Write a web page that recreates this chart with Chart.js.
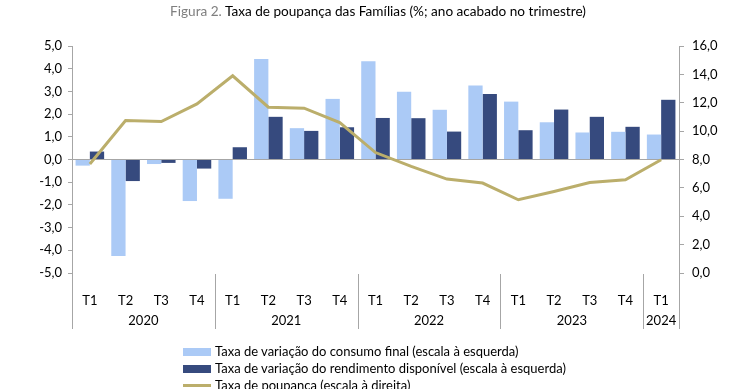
<!DOCTYPE html>
<html>
<head>
<meta charset="utf-8">
<script src="https://cdn.jsdelivr.net/npm/chart.js@4.4.1/dist/chart.umd.min.js"></script>
<style>
  html, body { margin: 0; padding: 0; background: #fff; overflow: hidden; }
  #wrap { position: relative; width: 740px; height: 389px; overflow: hidden; font-family: Lato, "Open Sans", sans-serif; }
  #c { position: absolute; left: 0; top: 0; }
  #title { position: absolute; left: 0; width: 756px; top: 3px; text-align: center; font-size: 13.6px; color: #000; white-space: nowrap; }
  #title .g { color: #7f7f7f; }
  .leg { position: absolute; left: 183px; font-size: 13px; color: #000; white-space: nowrap; height: 17px; line-height: 17px; }
  .sw { display: inline-block; width: 28px; height: 8px; vertical-align: middle; margin-right: 4px; position: relative; top: -1px; }
  .swl { display: inline-block; width: 28px; height: 3px; vertical-align: middle; margin-right: 4px; position: relative; top: -1px; }
</style>
</head>
<body>
<div id="wrap">
  <canvas id="c" width="740" height="389"></canvas>
  <div id="title"><span class="g">Figura 2.</span> Taxa de poupança das Famílias (%; ano acabado no trimestre)</div>
  <div class="leg" style="top:343px"><span class="sw" style="background:#abcaf6"></span>Taxa de variação do consumo final (escala à esquerda)</div>
  <div class="leg" style="top:360px"><span class="sw" style="background:#364a7e"></span>Taxa de variação do rendimento disponível (escala à esquerda)</div>
  <div class="leg" style="top:377px"><span class="swl" style="background:#bbae6b"></span>Taxa de poupança (escala à direita)</div>
</div>
<script>
const quarters = ['T1','T2','T3','T4','T1','T2','T3','T4','T1','T2','T3','T4','T1','T2','T3','T4','T1'];
const years = ['2020','2021','2022','2023','2024'];
const yearSizes = [4, 4, 4, 4, 1];
const consumo = [-0.27, -4.25, -0.2, -1.83, -1.73, 4.43, 1.38, 2.67, 4.33, 2.98, 2.19, 3.26, 2.55, 1.64, 1.19, 1.22, 1.1];
const rendimento = [0.35, -0.95, -0.15, -0.4, 0.54, 1.88, 1.26, 1.42, 1.83, 1.82, 1.23, 2.89, 1.29, 2.2, 1.88, 1.44, 2.63];
const poupanca = [7.68, 10.75, 10.68, 11.92, 13.9, 11.69, 11.62, 10.6, 8.49, 7.51, 6.62, 6.34, 5.16, 5.75, 6.38, 6.57, 7.98];

const axisGray = '#a6a6a6';
const fontFam = 'Lato, "Open Sans", sans-serif';
const fmt = v => v.toFixed(1).replace('.', ',');

const groupPlugin = {
  id: 'groups',
  afterDraw(chart) {
    const ctx = chart.ctx;
    const x = chart.scales.x;
    const area = chart.chartArea;
    const y0 = area.bottom + 1, y1 = area.bottom + 56;
    ctx.save();
    ctx.strokeStyle = axisGray;
    ctx.lineWidth = 1;
    [area.left, area.right].forEach(px => {
      ctx.beginPath(); ctx.moveTo(Math.round(px) + 0.5, area.bottom); ctx.lineTo(Math.round(px) + 0.5, y1); ctx.stroke();
    });
    let start = 0;
    ctx.fillStyle = '#000';
    ctx.font = '13px ' + fontFam;
    ctx.textAlign = 'center';
    ctx.textBaseline = 'middle';
    yearSizes.forEach((n, gi) => {
      const end = start + n - 1;
      const left = start === 0 ? area.left : (x.getPixelForValue(start - 1) + x.getPixelForValue(start)) / 2;
      const right = end === quarters.length - 1 ? area.right : (x.getPixelForValue(end) + x.getPixelForValue(end + 1)) / 2;
      if (start !== 0) {
        ctx.beginPath(); ctx.moveTo(Math.round(left) + 0.5, y0); ctx.lineTo(Math.round(left) + 0.5, y1); ctx.stroke();
      }
      ctx.fillText(years[gi], (left + right) / 2, area.bottom + 48);
      start += n;
    });
    ctx.restore();
  }
};

new Chart(document.getElementById('c'), {
  data: {
    labels: quarters,
    datasets: [
      { type: 'line', label: 'Taxa de poupança (escala à direita)', data: poupanca, yAxisID: 'y1',
        borderColor: '#bbae6b', borderWidth: 3, pointRadius: 0, tension: 0, order: 0 },
      { type: 'bar', label: 'Taxa de variação do consumo final (escala à esquerda)', data: consumo, yAxisID: 'y',
        backgroundColor: '#abcaf6', categoryPercentage: 0.8, barPercentage: 1.0, order: 1 },
      { type: 'bar', label: 'Taxa de variação do rendimento disponível (escala à esquerda)', data: rendimento, yAxisID: 'y',
        backgroundColor: '#364a7e', categoryPercentage: 0.8, barPercentage: 1.0, order: 1 }
    ]
  },
  options: {
    responsive: false,
    devicePixelRatio: 1,
    animation: false,
    layout: { padding: { top: 46, left: 0, right: 0, bottom: 0 } },
    plugins: { legend: { display: false }, tooltip: { enabled: false }, title: { display: false } },
    scales: {
      x: {
        offset: true,
        grid: { display: false },
        border: { display: false },
        ticks: { color: '#000', font: { size: 13, family: fontFam }, padding: 12, autoSkip: false, maxRotation: 0 },
        afterFit(s) { s.height = 116; }
      },
      y: {
        position: 'left',
        min: -5, max: 5,
        ticks: { stepSize: 1, color: '#000', font: { size: 13, family: fontFam }, padding: 6, callback: v => fmt(v) },
        grid: {
          color: c => (c.tick && c.tick.value === 0) ? axisGray : 'rgba(0,0,0,0)',
          tickColor: axisGray, tickLength: 4, drawTicks: true
        },
        border: { display: true, color: axisGray },
        afterFit(s) { s.width = 72; }
      },
      y1: {
        position: 'right',
        min: 0, max: 16,
        ticks: { stepSize: 2, color: '#000', font: { size: 13, family: fontFam }, padding: 8, callback: v => fmt(v) },
        grid: { drawOnChartArea: false, tickColor: axisGray, tickLength: 5 },
        border: { display: true, color: axisGray },
        afterFit(s) { s.width = 61; }
      }
    }
  },
  plugins: [groupPlugin]
});
</script>
</body>
</html>
